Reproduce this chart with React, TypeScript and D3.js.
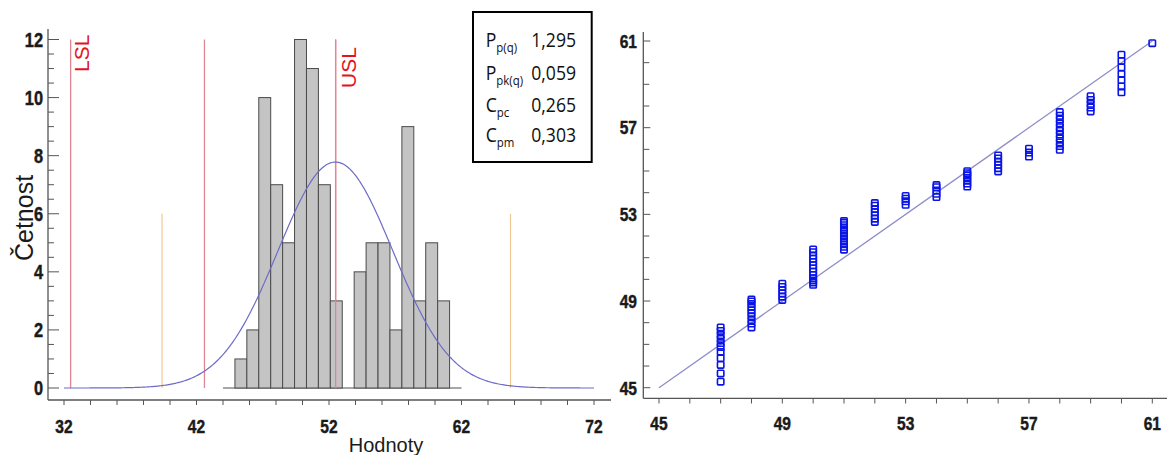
import React, { useEffect } from "react";
import * as d3 from "d3";

// ---------- DATA ----------
const HIST_COUNTS = [1, 2, 10, 7, 5, 12, 11, 7, 3, 0, 4, 5, 5, 2, 9, 3, 5, 3];
const BIN_START = 44.9;
const BIN_WIDTH = 0.9;
const HIST_BASE = [44, 62];
const HIST_X_TICKS = [32, 42, 52, 62, 72];
const HIST_Y_TICKS = [0, 2, 4, 6, 8, 10, 12];
const RED_LINES = [32.5, 42.6, 52.5];
const ORANGE_LINES = [39.4, 65.7];
const RED_TOP = 12;
const ORANGE_TOP = 6;

const STAT_MAIN = ["P", "P", "C", "C"];
const STAT_SUB = ["p(q)", "pk(q)", "pc", "pm"];
const STAT_VALUES = ["1,295", "0,059", "0,265", "0,303"];

const QQ_X = [47, 48, 49, 50, 51, 52, 53, 54, 55, 56, 57, 58, 59, 60, 61];
const QQ_Y = [
  [45.28, 45.66, 46.05, 46.37, 46.65, 46.88, 47.06, 47.25, 47.43, 47.62, 47.78],
  [47.78, 47.96, 48.12, 48.3, 48.45, 48.58, 48.72, 48.86, 48.98, 49.07],
  [49.05, 49.2, 49.35, 49.5, 49.65, 49.8],
  [49.75, 49.85, 49.95, 50.05, 50.2, 50.35, 50.5, 50.65, 50.8, 50.95, 51.1, 51.25, 51.38],
  [51.37, 51.5, 51.62, 51.75, 51.88, 52.0, 52.12, 52.25, 52.38, 52.5, 52.6, 52.69],
  [52.65, 52.8, 52.95, 53.1, 53.25, 53.4, 53.52],
  [53.44, 53.6, 53.72, 53.85],
  [53.8, 53.95, 54.1, 54.25, 54.35],
  [54.28, 54.42, 54.55, 54.68, 54.8, 54.9, 54.99],
  [54.98, 55.13, 55.28, 55.43, 55.58, 55.72],
  [55.67, 55.85, 56.03],
  [55.98, 56.15, 56.32, 56.5, 56.68, 56.85, 57.02, 57.2, 57.38, 57.55, 57.72],
  [57.75, 57.93, 58.1, 58.28, 58.45],
  [58.63, 58.9, 59.2, 59.48, 59.78, 60.08, 60.37],
  [60.9],
];
const QQ_TICKS = [45, 49, 53, 57, 61];
const QQ_LINE = [45, 61];

// ---------- STYLE ----------
const AXIS = "#555";
const TICK_FONT = "'Liberation Sans', Arial, sans-serif";
const TXT = "#1a1a1a";

function CText(props: any) {
  const { x, y, sx = 0.82, anchor = "middle", children, ...rest } = props;
  const tr = `translate(${x},${y}) scale(${sx},1)`;
  return (
    <text
      transform={tr}
      textAnchor={anchor}
      fontFamily={TICK_FONT}
      fontWeight="bold"
      fontSize={19}
      fill={TXT}
      stroke={TXT}
      strokeWidth={0.45}
      {...rest}
    >
      {children}
    </text>
  );
}

export default function App() {
  useEffect(() => {
    document.body.style.margin = "0";
  }, []);

  // Left histogram scales
  const hx = d3.scaleLinear().domain([32, 72]).range([64, 594]);
  const hy = d3.scaleLinear().domain([0, 12]).range([388, 39.5]);

  const bins = HIST_COUNTS.map((c, i) => ({
    x0: BIN_START + i * BIN_WIDTH,
    x1: BIN_START + (i + 1) * BIN_WIDTH,
    c,
  }));
  const N = d3.sum(HIST_COUNTS);
  const mean = d3.sum(bins, (b) => ((b.x0 + b.x1) / 2) * b.c) / N;
  const sd = Math.sqrt(
    d3.sum(bins, (b) => Math.pow((b.x0 + b.x1) / 2 - mean, 2) * b.c) / (N - 1)
  );
  const pdf = (x: number) =>
    ((N * BIN_WIDTH) / (sd * Math.sqrt(2 * Math.PI))) * Math.exp(-0.5 * Math.pow((x - mean) / sd, 2));
  const curvePts = d3.range(32, 72.001, 0.1).map((x) => [x, pdf(x)] as [number, number]);
  const curve = d3
    .line<[number, number]>()
    .x((d) => hx(d[0]))
    .y((d) => hy(d[1]))(curvePts);

  const hxMinor = d3.range(32, 72.001, 2);
  const hyMinor = d3.range(0, 12.001, 0.5);

  // Right QQ scales
  const qx = d3.scaleLinear().domain([45, 61]).range([659, 1152.3]);
  const qy = d3.scaleLinear().domain([45, 61]).range([387.7, 41]);
  const qMinor = d3.range(45, 61.001, 1);

  const statRowsY = [46.5, 79.5, 111.5, 141.5];

  return (
    <svg
      width={1167}
      height={455}
      style={{ position: "absolute", left: 0, top: 0, display: "block", background: "#fff" }}
    >
      <rect x={0} y={0} width={1167} height={455} fill="#fff" />

      {/* ===== LEFT: histogram ===== */}
      {RED_LINES.map((v, i) => (
        <line key={"r" + i} x1={hx(v)} x2={hx(v)} y1={hy(RED_TOP)} y2={hy(0)} stroke="#e08592" strokeWidth={1.3} />
      ))}
      {ORANGE_LINES.map((v, i) => (
        <line key={"o" + i} x1={hx(v)} x2={hx(v)} y1={hy(ORANGE_TOP)} y2={hy(0)} stroke="#f0c893" strokeWidth={1.2} />
      ))}
      <line x1={hx(HIST_BASE[0])} x2={hx(HIST_BASE[1])} y1={hy(0)} y2={hy(0)} stroke="#8a8a8a" strokeWidth={1.6} />
      {bins
        .filter((b) => b.c > 0)
        .map((b, i) => (
          <rect
            key={"b" + i}
            x={hx(b.x0)}
            y={hy(b.c)}
            width={hx(b.x1) - hx(b.x0)}
            height={hy(0) - hy(b.c)}
            fill="#c4c4c4"
            stroke="#4a4a4a"
            strokeWidth={1}
          />
        ))}
      <line x1={hx(RED_LINES[2])} x2={hx(RED_LINES[2])} y1={hy(RED_TOP)} y2={hy(0)} stroke="#e08592" strokeWidth={1.3} />
      <path d={curve || ""} fill="none" stroke="#6c6cc8" strokeWidth={1.2} />

      <text transform="translate(89,72) rotate(-90)" fontFamily="'Liberation Sans', Arial, sans-serif" fontSize={21} fill="#e3141e">
        LSL
      </text>
      <text transform="translate(356,88) rotate(-90)" fontFamily="'Liberation Sans', Arial, sans-serif" fontSize={21} fill="#e3141e">
        USL
      </text>

      <line x1={48} x2={48} y1={29} y2={400} stroke={AXIS} strokeWidth={1.3} />
      <line x1={48} x2={611} y1={400} y2={400} stroke={AXIS} strokeWidth={1.3} />
      {hyMinor.map((v, i) => {
        const major = HIST_Y_TICKS.includes(v);
        return <line key={"hym" + i} x1={48} x2={48 + (major ? 11 : 6)} y1={hy(v)} y2={hy(v)} stroke={AXIS} strokeWidth={1} />;
      })}
      {hxMinor.map((v, i) => (
        <line key={"hxm" + i} x1={hx(v)} x2={hx(v)} y1={400} y2={405} stroke={AXIS} strokeWidth={1} />
      ))}
      {HIST_Y_TICKS.map((v) => (
        <CText key={"hyl" + v} x={43} y={hy(v) + 7} anchor="end" fontSize={20}>
          {v}
        </CText>
      ))}
      {HIST_X_TICKS.map((v) => (
        <CText key={"hxl" + v} x={hx(v)} y={433}>
          {v}
        </CText>
      ))}
      <text
        transform="translate(33,218) rotate(-90)"
        textAnchor="middle"
        fontFamily="'Liberation Sans', Arial, sans-serif"
        fontSize={25}
        fill={TXT}
      >
        Četnost
      </text>
      <text x={386} y={452} textAnchor="middle" fontFamily="'Liberation Sans', Arial, sans-serif" fontSize={20} fill={TXT}>
        Hodnoty
      </text>

      <rect x={473} y={12} width={118.7} height={150} fill="#fff" stroke="#000" strokeWidth={2} />
      {STAT_MAIN.map((m, i) => (
        <g key={"st" + i}>
          <text
            transform={`translate(485.7,${statRowsY[i]}) scale(0.88,1)`}
            fontFamily="'Open Sans', sans-serif"
            fontSize={20}
            fill="#111"
          >
            {m}
            <tspan fontSize={13} dy={5}>
              {STAT_SUB[i]}
            </tspan>
          </text>
          <text
            transform={`translate(576,${statRowsY[i]}) scale(0.88,1)`}
            textAnchor="end"
            fontFamily="'Open Sans', sans-serif"
            fontSize={20}
            fill="#111"
          >
            {STAT_VALUES[i]}
          </text>
        </g>
      ))}

      {/* ===== RIGHT: QQ plot ===== */}
      <line
        x1={qx(QQ_LINE[0])}
        y1={qy(QQ_LINE[0])}
        x2={qx(QQ_LINE[1])}
        y2={qy(QQ_LINE[1])}
        stroke="#8e8ec8"
        strokeWidth={1.3}
      />
      {QQ_X.map((xv, ci) =>
        QQ_Y[ci].map((yv, j) => (
          <rect
            key={`q${ci}-${j}`}
            x={qx(xv) - 3.2}
            y={qy(yv) - 3.2}
            width={6.4}
            height={6.4}
            rx={0.8}
            fill="none"
            stroke="#0a14e6"
            strokeWidth={1.6}
          />
        ))
      )}
      <line x1={643.3} x2={643.3} y1={32} y2={398.3} stroke={AXIS} strokeWidth={1.3} />
      <line x1={643.3} x2={1167} y1={398.3} y2={398.3} stroke={AXIS} strokeWidth={1.3} />
      {qMinor.map((v, i) => {
        const major = QQ_TICKS.includes(v);
        return (
          <g key={"qm" + i}>
            <line x1={643.3} x2={643.3 + (major ? 7 : 6)} y1={qy(v)} y2={qy(v)} stroke={AXIS} strokeWidth={1} />
            <line x1={qx(v)} x2={qx(v)} y1={398.3} y2={403.5} stroke={AXIS} strokeWidth={1} />
          </g>
        );
      })}
      {QQ_TICKS.map((v) => (
        <g key={"ql" + v}>
          <CText x={637} y={qy(v) + 6.8} anchor="end">
            {v}
          </CText>
          <CText x={qx(v)} y={430}>
            {v}
          </CText>
        </g>
      ))}
    </svg>
  );
}
